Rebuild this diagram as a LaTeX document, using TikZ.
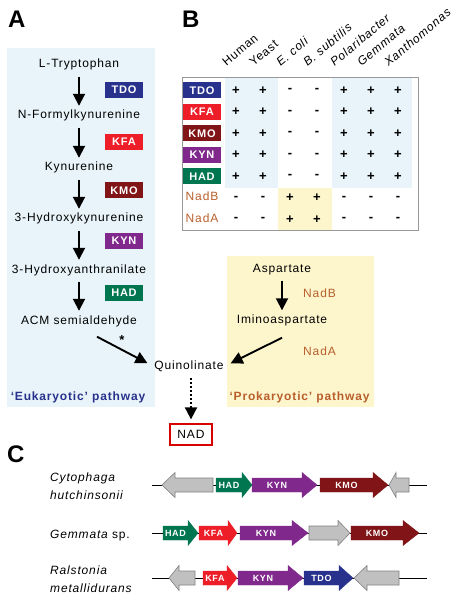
\documentclass[tikz,border=0pt]{standalone}
\usepackage{fontspec}
\setmainfont{Liberation Sans}[LetterSpace=7]
\newfontfamily\plainsans{Liberation Sans}
\usetikzlibrary{arrows.meta,calc}
\definecolor{cTDO}{RGB}{40,50,140}
\definecolor{cKFA}{RGB}{237,30,40}
\definecolor{cKMO}{RGB}{128,20,22}
\definecolor{cKYN}{RGB}{128,40,140}
\definecolor{cHAD}{RGB}{0,118,80}
\definecolor{cBrown}{RGB}{185,95,45}
\definecolor{cNavy}{RGB}{40,50,140}
\definecolor{bgBlue}{RGB}{232,244,249}
\definecolor{bgYellow}{RGB}{253,246,204}
\definecolor{gGray}{RGB}{192,192,192}
\definecolor{gEdge}{RGB}{130,130,130}
\newcommand{\gR}[7]{%
  \filldraw[#6] (#2,#5-7) -- (#3,#5-7) -- (#3,#5-12.5) -- (#4,#5) -- (#3,#5+12.5) -- (#3,#5+7) -- (#2,#5+7) -- cycle;
  \node[glbl] (#1) at ({(#2+#3)/2},#5) {#7};}
\newcommand{\gL}[4]{%
  \filldraw[grayg] (#3,#4-7) -- (#2,#4-7) -- (#2,#4-12.5) -- (#1,#4) -- (#2,#4+12.5) -- (#2,#4+7) -- (#3,#4+7) -- cycle;}
\begin{document}
\begin{tikzpicture}[x=1pt,y=-1pt,
  txt/.style={font=\fontsize{12}{14}\selectfont, inner sep=1.5pt, text height=9pt, text depth=3pt},
  panel/.style={font=\plainsans\bfseries\fontsize{24}{24}\selectfont, inner sep=0pt, anchor=base west},
  enz/.style={fill=#1, text=white, font=\bfseries\fontsize{11}{12}\selectfont, minimum width=38pt, minimum height=16pt, inner sep=0pt},
  arr/.style={-{Triangle[length=12pt,width=12pt]}, line width=1.9pt},
  dotarr/.style={-{Triangle[length=12pt,width=12pt]}, line width=2pt, dash pattern=on 2pt off 2pt},
  brown/.style={txt, text=cBrown},
  sign/.style={font=\bfseries\fontsize{13}{14}\selectfont, inner sep=0pt},
  hdr/.style={font=\fontsize{12}{14}\selectfont, inner sep=0pt, anchor=base west, rotate=40},
  spc/.style={font=\itshape\fontsize{12}{14}\selectfont, inner sep=0pt, anchor=base west},
  glbl/.style={text=white, font=\bfseries\fontsize{9}{10}\selectfont, inner sep=0pt},
  gene/.style={fill=#1, draw=#1, line width=0.4pt},
  grayg/.style={fill=gGray, draw=gEdge, line width=0.6pt},
  dna/.style={line width=1pt}
]
\fill[white] (0,0) rectangle (464,601);
\useasboundingbox (0,0) rectangle (464,601);

% ---------- Panel A ----------
\node[panel] (lA) at (8,28) {A};
\fill[bgBlue] (7,48) rectangle (155,407);
\fill[bgYellow] (227,256) rectangle (374,407);

\node[txt] (trp) at (79,65) {L-Tryptophan};
\node[txt] (nfk) at (79,116) {N-Formylkynurenine};
\node[txt] (kyn) at (79,168) {Kynurenine};
\node[txt] (hk) at (79,219) {3-Hydroxykynurenine};
\node[txt] (ha) at (79,270) {3-Hydroxyanthranilate};
\node[txt] (acm) at (79,321) {ACM semialdehyde};
\node[txt] (quin) at (189,366) {Quinolinate};
\node[txt] (asp) at (282,269) {Aspartate};
\node[txt] (imino) at (282,320) {Iminoaspartate};

\node[enz=cTDO] (eTDO) at (124,90) {TDO};
\node[enz=cKFA] (eKFA) at (124,142) {KFA};
\node[enz=cKMO] (eKMO) at (124,190.5) {KMO};
\node[enz=cKYN] (eKYN) at (124,241) {KYN};
\node[enz=cHAD] (eHAD) at (124,293) {HAD};

\node[brown] (nadB) at (319.5,294) {NadB};
\node[brown] (nadA) at (319.5,352) {NadA};

\foreach \a/\b in {trp/nfk, nfk/kyn, kyn/hk, hk/ha, ha/acm}
  \draw[arr, shorten <=4pt, shorten >=2.5pt] (\a) -- (\b);
\draw[arr, shorten <=4pt, shorten >=2pt] (asp) -- (imino);
\draw[arr, shorten >=6pt] ($(acm.south)+(18,8)$) -- (quin.west);
\draw[arr, shorten >=6pt] ($(imino.south)+(0,10)$) -- (quin.east);
\node[font=\bfseries\fontsize{13}{13}\selectfont, inner sep=0pt] (star) at (122,340) {*};

\node[txt, font=\bfseries\fontsize{12}{14}\selectfont, text=cNavy] (euk) at (78,397) {‘Eukaryotic’ pathway};
\node[txt, font=\bfseries\fontsize{12}{14}\selectfont, text=cBrown] (prok) at (299.5,397) {‘Prokaryotic’ pathway};

\node[draw=red!85!black, line width=1.3pt, minimum width=42pt, minimum height=21pt, inner sep=0pt,
      font=\fontsize{12}{14}\selectfont] (nad) at (191,434.5) {NAD};
\draw[dotarr, shorten <=4.5pt, shorten >=4pt] (quin.south -| nad) -- (nad.north);

% ---------- Panel B ----------
\node[panel] (lB) at (182,28) {B};
\fill[bgBlue] (225,77) rectangle (278,188);
\fill[bgBlue] (332,77) rectangle (412,188);
\fill[bgYellow] (278,188) rectangle (332,230);
\draw[gray!80, line width=0.9pt] (182,77) rectangle (418,230);

\node[hdr] (hHum) at (226.5,67) {Human};
\node[hdr] (hYea) at (253.5,67) {Yeast};
\node[hdr] (hEco) at (280.5,67) {\itshape E. coli};
\node[hdr] (hBsu) at (307.5,67) {\itshape B. subtilis};
\node[hdr] (hPol) at (334.5,67) {\itshape Polaribacter};
\node[hdr] (hGem) at (361.5,67) {\itshape Gemmata};
\node[hdr] (hXan) at (388.5,67) {\itshape Xanthomonas};

\node[enz=cTDO] (tTDO) at (202,90.5) {TDO};
\node[enz=cKFA] (tKFA) at (202,112) {KFA};
\node[enz=cKMO] (tKMO) at (202,133.5) {KMO};
\node[enz=cKYN] (tKYN) at (202,155) {KYN};
\node[enz=cHAD] (tHAD) at (202,176.5) {HAD};
\node[brown] (tNadB) at (202,198) {NadB};
\node[brown] (tNadA) at (202,219.5) {NadA};

\foreach \y in {90.5,112,133.5,155,176.5}
  \foreach \x/\s [count=\i] in {236/+,263/+,290/-,317/-,344/+,371/+,398/+}
    \node[sign] (s-\y-\i) at (\x,\y) {\s};
\foreach \y in {198,219.5}
  \foreach \x/\s [count=\i] in {236/-,263/-,290/+,317/+,344/-,371/-,398/-}
    \node[sign] (s-\y-\i) at (\x,\y) {\s};

% ---------- Panel C ----------
\node[panel] (lC) at (7,462) {C};
\node[spc] (sp1a) at (50,481) {Cytophaga};
\node[spc] (sp1b) at (50,499) {hutchinsonii};
\node[spc] (sp2) at (50,538) {Gemmata\upshape\ sp.};
\node[spc] (sp3a) at (50,574) {Ralstonia};
\node[spc] (sp3b) at (50,592) {metallidurans};

\draw[dna] (152,485) -- (427,485);
\draw[dna] (152,533) -- (427,533);
\draw[dna] (152,578) -- (427,578);

% row 1
\gL{162}{175}{213}{485}
\gR{r1had}{216}{242}{252}{485}{gene=cHAD}{HAD}
\gR{r1kyn}{252}{302}{317}{485}{gene=cKYN}{KYN}
\gR{r1kmo}{320}{373}{388}{485}{gene=cKMO}{KMO}
\gL{389}{396}{409}{485}
% row 2
\gR{r2had}{163}{188}{198}{533}{gene=cHAD}{HAD}
\gR{r2kfa}{199}{228}{237}{533}{gene=cKFA}{KFA}
\gR{r2kyn}{240}{292}{308}{533}{gene=cKYN}{KYN}
\gR{r2gry}{309}{338}{350}{533}{grayg}{}
\gR{r2kmo}{351}{403}{419}{533}{gene=cKMO}{KMO}
% row 3
\gL{169}{179}{195}{578}
\gR{r3kfa}{203}{227}{237}{578}{gene=cKFA}{KFA}
\gR{r3kyn}{238}{288}{303}{578}{gene=cKYN}{KYN}
\gR{r3tdo}{304}{339}{353}{578}{gene=cTDO}{TDO}
\gL{354}{367}{399}{578}
\end{tikzpicture}
\end{document}
